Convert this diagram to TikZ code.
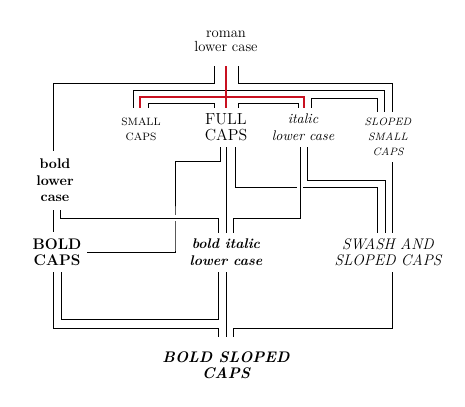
\documentclass[tikz,border=0pt]{standalone}
\usepackage{fontspec}
\definecolor{famred}{RGB}{200,16,32}
\tikzset{
    famnode/.style={inner xsep=4pt, inner ysep=0pt, align=center, font=\fontsize{10}{12.5}\selectfont},
    famlink/.style={draw=black, line width=0.75pt},
    famroman/.style={draw=famred, line width=2.1pt},
    fambridge/.style={famlink, preaction={draw=white, line width=4pt}}
}

\begin{document}
\begin{tikzpicture}[x=0.75pt, y=-0.75pt]
    \useasboundingbox (0,0) rectangle (465,407);
    \node[famnode, minimum height=36.75pt, font=\fontsize{11}{10.5}\selectfont] (roman) at (226,41.5) {roman\\lower case};
    \node[famnode, minimum height=32.25pt, font=\fontsize{8}{11.25}\selectfont\addfontfeature{LetterSpace=16}] (smallcaps) at (141,129.5) {SMALL\\CAPS};
    \node[famnode, minimum height=29.25pt, font=\fontsize{12}{12}\selectfont] (fullcaps) at (226,127.5) {FULL\\CAPS};
    \node[famnode, minimum height=29.25pt, font=\itshape\fontsize{10.5}{12.75}\selectfont] (italic) at (303,127.5) {italic\\lower case};
    \node[famnode, minimum height=37.5pt, font=\itshape\fontsize{8}{11.25}\selectfont\addfontfeature{LetterSpace=16}] (slopedsc) at (388,137) {SLOPED\\SMALL\\CAPS};
    \node[famnode, minimum height=44.25pt, font=\bfseries\fontsize{10.5}{12.4}\selectfont] (boldlc) at (55,180.5) {bold\\lower\\case};
    \node[famnode, minimum height=30pt, font=\bfseries\fontsize{11.5}{12}\selectfont] (boldcaps) at (57,252) {BOLD\\CAPS};
    \node[famnode, minimum height=29.25pt, font=\bfseries\itshape\fontsize{10.5}{12.75}\selectfont] (bolditalic) at (226,252.5) {bold italic\\lower case};
    \node[famnode, minimum height=29.25pt, font=\itshape\fontsize{11.5}{12}\selectfont] (swash) at (388,252.5) {SWASH AND\\SLOPED CAPS};
    \node[famnode, minimum height=42pt, font=\bfseries\itshape\fontsize{11.5}{12}\selectfont] (boldsloped) at (226,365) {BOLD SLOPED\\CAPS};

    % From roman
    \draw[famlink] (roman.south -| 214,0) -- (214,83) -| (boldlc.north -| 53,0);
    \draw[famlink] (roman.south -| 238,0) -- (238,83) -| (slopedsc.north -| 392,0);
    \draw[famlink] (smallcaps.north -| 133,0) -- (133,90) -| (slopedsc.north -| 384,0);
    \draw[famlink] (smallcaps.north -| 148,0) -- (148,103) -| (fullcaps.north -| 214,0);
    \draw[famlink] (fullcaps.north -| 238,0) -- (238,103) -| (italic.north -| 298,0);
    \draw[famlink] (italic.north -| 311,0) -- (311,98) -| (slopedsc.north -| 377,0);
    \draw[famroman] (roman.south) -- (fullcaps.north);
    \draw[famroman] (smallcaps.north -| 140,0) -- (140,97) -- (304,97) -- (italic.north -| 304,0);

    % Middle row
    \draw[famlink] (fullcaps.south -| 220,0) -- (220,161) -| (175,250) |- (boldcaps.east);
    \draw[famlink] (fullcaps.south) -- (bolditalic.north);
    \draw[famlink] (fullcaps.south -| 235,0) -- (235,187) -| (swash.north -| 377,0);
    \draw[famlink] (italic.south -| 307,0) -- (307,180) -| (swash.north -| 385,0);
    \draw[famlink] (slopedsc.south -| 392,0) -- (swash.north -| 392,0);
    \draw[famlink] (boldlc.south -| 53,0) -- (boldcaps.north -| 53,0);
    \draw[fambridge] (boldlc.south -| 60,0) -- (60,218) -| (bolditalic.north -| 218,0);
    \draw[fambridge] (italic.south -| 300,0) -- (300,218) -| (bolditalic.north -| 233,0);

    % Into bold sloped caps
    \draw[famlink] (boldcaps.south -| 61,0) -- (61,319) -| (bolditalic.south -| 218,0);
    \draw[famlink] (boldcaps.south -| 53,0) -- (53,328) -| (boldsloped.north -| 218,0);
    \draw[famlink] (bolditalic.south) -- (boldsloped.north);
    \draw[famlink] (swash.south -| 392,0) -- (392,328) -| (boldsloped.north -| 233,0);
\end{tikzpicture}
\end{document}
